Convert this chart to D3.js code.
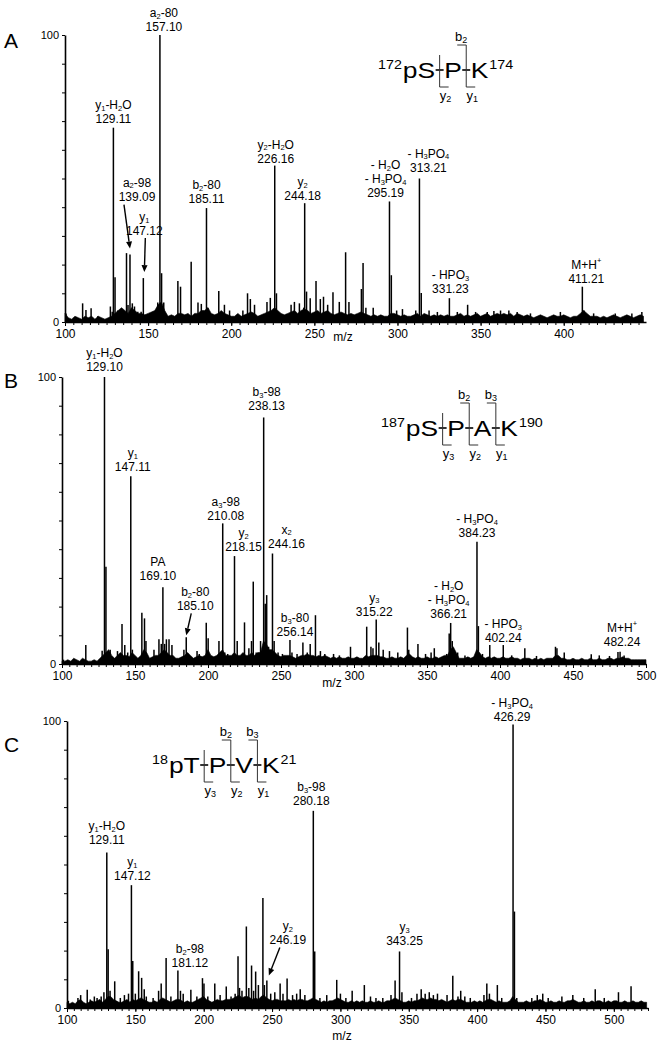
<!DOCTYPE html>
<html>
<head>
<meta charset="utf-8">
<script src="https://cdn.jsdelivr.net/npm/d3@7"></script>
<style>
  body { margin: 0; background: #fff; }
  svg { font-family: "Liberation Sans", Arial, sans-serif; }
</style>
</head>
<body>
<svg id="chart" width="662" height="1050"></svg>
<script>
// ---------- data: [m/z, relative intensity %] ----------
const peaksA = [
  [100.6,3],[110.6,6.5],[112.6,4.2],[115.7,4.8],[119.7,2],[127.3,5.4],[128.4,3.6],[129.11,67.7],[130.1,15.6],[131.7,4],
  [137.0,24],[137.9,5.9],[139.09,23.5],[140.5,6.5],[141.8,5.4],[143.8,3.6],[145.8,3.6],[147.12,15.3],[155.8,6.8],[157.10,100],
  [158.1,17],[159.4,6.8],[167.9,14.3],[169.5,12.3],[175.9,21],[180,6.8],[182,6.3],[185.11,39.7],[185.9,5],[192.5,10.8],
  [195.9,6],[199,4],[207,4],[209.8,10],[211.5,8],[214,6],[221.5,7],[223.5,8.4],[226.16,54.5],[227.2,10],
  [236,6],[238,7],[241,6.5],[243.6,5],[244.18,41.4],[245.3,10.6],[247.5,8.3],[251,14.3],[253.6,8],[255.5,8.8],
  [258,6],[261.2,10.4],[265,7],[268.8,24.3],[270.8,7],[278.3,11.5],[279.3,20.6],[281,5],[285.4,5],[295.19,42],
  [296.3,16.3],[299.5,4],[303,4.5],[311,4],[313.21,50],[314.3,10.1],[319,4],[324,3.5],[331.23,8.3],[336,3.5],
  [342.2,6],[347,3.5],[354,3.5],[358,3.8],[362,4],[367,4],[372,3.5],[380,3],[398,3.5],[411.21,12.3],
  [412.2,4],[418,3],[431,3],[441,3],[447,3.5]
];
const peaksB = [
  [101,1.5],[116.3,6.6],[127.5,4.6],[129.10,100],[130.1,33.9],[133,5],[138,4.5],[141.1,13.9],[143,6.6],[145,4],
  [147.11,65.4],[148.2,5],[154.7,17.9],[156.5,15.9],[157.5,8],[163,5],[166.4,8.6],[168,7],[169.10,26.7],[170.3,7],
  [171.5,8.6],[173.3,8.6],[175.3,6.6],[183.5,5],[185.10,9.3],[192.5,4.5],[194,3.5],[198.8,14.4],[200.1,9],[207.5,8],
  [210.08,49],[211.5,4],[213.5,3.5],[218.15,37.6],[220,8],[225,14.5],[228,5.5],[229.8,8],[231,28.7],[233,4],
  [236,8],[238.13,85.9],[239.2,21],[240.2,24],[241.5,6],[244.16,38.5],[245.3,8],[248,4],[251,3.5],[256.14,8.4],
  [257.5,4],[261,3.5],[265,7.5],[268,4],[270,7],[273.6,17],[277,4.5],[280,3.5],[286,3.5],[290,3],
  [297.6,6],[308.7,13],[311.6,6],[313,5.5],[315.22,15.5],[317,7.5],[320,5],[324.3,4.5],[330,4],[336.6,12.7],
  [337.5,5],[343.8,7],[349,3.5],[352.8,4],[355,5.5],[363.5,3.5],[365.2,10.6],[366.21,14.3],[367.3,8],[371,4],
  [376,3],[384.23,42.6],[385.2,13.2],[388,3.5],[393,6.6],[402.24,6.6],[408,3],[417,5.5],[425,2.8],[438,6],
  [439,5.5],[444,4],[462.5,3.4],[468,3],[475,2.8],[480.8,4.2],[482.24,4.3],[485,3]
];
const peaksC = [
  [101,2.5],[108,3.5],[110,4.5],[114.8,6.4],[117,3],[120,4],[122,3.5],[125,4],[127,5.5],[129.11,54.2],
  [130.1,20.5],[131.5,6],[134.9,9.3],[139,3.5],[142,4.5],[145,5],[147.12,42.8],[148.1,16.4],[150,5],[152.4,12.8],
  [154.6,10.5],[156.5,6.5],[158,4],[163,3.5],[167,6],[168.9,8.5],[172.5,17.4],[176,4],[181.12,13.1],[183,6],
  [185,5],[190.6,6.4],[195,4],[199.1,10.4],[200.2,8.5],[203,4],[208.1,8.5],[212,4.5],[216.5,7.5],[220,4],
  [223,5],[225.1,18],[226.2,7],[228,6],[231.2,28.4],[233,7],[235,14.8],[236.5,6],[238,12.7],[240,8],
  [243.3,38.3],[244.4,8],[246.19,9.6],[249,5],[252,5.5],[255.9,8.5],[258,5],[261,10.3],[265,4.5],[268,5],
  [270.6,6.5],[274,4.5],[280.18,68.7],[281.2,19.7],[285,3.5],[290,4.5],[297.3,9.8],[300,5],[304,3.5],[308.6,6],
  [317.5,8],[322,4],[326,3.5],[331,3.5],[337,4.5],[340,9.6],[343.25,19.7],[345,5.5],[352,3.5],[356,5],
  [359.1,6.5],[362,5],[365,5.5],[368,4.5],[371,5],[378,4.5],[382.2,11.2],[386,4],[388,6],[391,4],
  [395,3.5],[405,4.5],[407.1,8.5],[409,5],[414.8,8],[418,3.5],[426.29,98.8],[427.3,33.6],[429,3.5],[440,3.5],
  [444,4.5],[448,5],[452,3.5],[462,4],[470,4.5],[478,3.5],[486.4,6.5],[493,3.5],[503.4,5.5],[512.6,7.6]
];

// baseline noise, one value every 2 m/z starting at 100
const noiseA = [
  3,1.5,1,2,1.5,1,2,1.5,2,1,  2,1.5,1,1.5,2,3,4,5,4,3,  5,4,3,3,2.5,3,3.5,4,6,7,
  4,2,2.5,2,3,3,2.5,3,2,3,  3,4,4,5,3,2.5,3,4,3,2.5,  2,2,3,2,2.5,3,3.5,3,2,2.5,
  3,3.5,4,5,4,3,2.5,3,3.5,4,  3,4,4.5,4,3,3.5,4,3,3.5,4,  3,2.5,3,3.5,3,2.5,3,2.5,3,3.5,
  3,2.5,2,2.5,2,2.5,2,2,3,3,  2.5,2,2.5,2,2,2.5,3,2,3,2.5,  2,2.5,2,2.5,2,2.5,2,2,2.5,3,
  2,2.5,2,2.5,3,2,2.5,3,2,2.5,  3,2.5,3,2.5,3,2,3,2.5,2,2.5,  2,1.5,2,2.5,2,1.5,2,2.5,2,2,
  2.5,2,1.5,2,2,3,4,3,2,2,  2,1.5,2,1.5,2,2.5,2,1.5,2,2.5,  2,1.5,2,2.5,2
];
const noiseB = [
  1,1,1.5,1,2,1.5,1,2,1.5,1,  1,1.5,1,2,3,4,5,3,2,3,  4,3,3,2.5,4,3,2,3,5,4,
  2,2.5,3,3,4,5,4,3,3,2,  2,2.5,3,4,3,2,2.5,3,2.5,3,  5,3,2.5,3,4,5,3,3,3,4,
  3,3,4,3,3,4,3,4,4,8,  7,5,5,4,3,2.5,3,3,3,2.5,  2,2.5,3,3,3.5,3,3,2.5,3,2.5,
  3,2.5,2,2.5,2,2.5,2,2,2.5,2,  2,2.5,2,2,3,2.5,3,3,3,2.5,  2.5,2,2,2.5,2,2,2.5,2,3,3.5,
  2.5,2,2.5,2,2,2.5,2,2,2.5,2,  2.5,3,3,5,6,4,2,2,2,2.5,  2,2.5,5,4,2.5,2,2.5,2,2.5,2,
  2,2.5,2,2,2.5,2,2,1.5,2,2,  2,1.5,2,1.5,2,1.5,2,2,2,3,  3,2,2,1.5,1.5,2,1.5,1.5,2,1.5,
  1.5,2,1.5,1.5,2,1.5,1.5,2,2,1.5,  2,2,2.5,2,2,1.5,1.5,1.5,1.5,1.5,  1.5
];
const noiseC = [
  2,1.5,2,1.5,2.5,3,2,1.5,2,2.5,  2,2.5,3,2,3,4,4,3,2.5,2,  2,2.5,3,2,3,2.5,3,3.5,3,2.5,
  2,2,2.5,2,3,3.5,3,2.5,2,2.5,  3,3,2.5,2,2.5,2,2,2.5,3,3.5,  4,3,2.5,2,2.5,3,2.5,2.5,3,3,
  3,3.5,4,4.5,3.5,4,4,3.5,3,3.5,  3,4,4.5,3.5,3,2.5,3,3,2.5,2.5,  2.5,3,2.5,3,2.5,3,3,2.5,2.5,3,
  3.5,3,2.5,2,2.5,2,2.5,2.5,3,3.5,  3,2.5,2,2,2.5,2,2.5,2,2.5,2,  2,2.5,2,2,2.5,2,2,2.5,2.5,3,
  3.5,3,2.5,2,2,2.5,2,2.5,2.5,3,  3.5,3,3,3.5,3,3,2.5,3,2.5,2,  2.5,3,2.5,3,3,2.5,2,2,2,2.5,
  2,2.5,2,2.5,3,3,2.5,2,2.5,2,  2,2,2.5,4,3,2,2,2,2.5,2,  2,2.5,2.5,3,2.5,2,2,2.5,2,2,
  2.5,2,2,2.5,2.5,3,2.5,2,2,2.5,  2,2,2.5,2,2.5,2.5,2,2,2.5,2,  2.5,2.5,2,2,2.5,2,2,2.5,2,2,
  2.5,2,2
];

// peak annotations: [m/z, lines separated by |]  (_x subscript, ^x superscript)
const labelsA = [
  [129.11,"y_1-H_2O|129.11"],[139.09,"a_2-98|139.09"],[147.12,"y_1|147.12"],[157.10,"a_2-80|157.10"],
  [185.11,"b_2-80|185.11"],[226.16,"y_2-H_2O|226.16"],[244.18,"y_2|244.18"],[295.19,"- H_2O|- H_3PO_4|295.19"],
  [313.21,"- H_3PO_4|313.21"],[331.23,"- HPO_3|331.23"],[411.21,"M+H^+|411.21"]
];
const labelsB = [
  [129.10,"y_1-H_2O|129.10"],[147.11,"y_1|147.11"],[169.10,"PA|169.10"],[185.10,"b_2-80|185.10"],
  [210.08,"a_3-98|210.08"],[218.15,"y_2|218.15"],[238.13,"b_3-98|238.13"],[244.16,"x_2|244.16"],
  [256.14,"b_3-80|256.14"],[315.22,"y_3|315.22"],[366.21,"- H_2O|- H_3PO_4|366.21"],[384.23,"- H_3PO_4|384.23"],
  [402.24,"- HPO_3|402.24"],[482.24,"M+H^+|482.24"]
];
const labelsC = [
  [129.11,"y_1-H_2O|129.11"],[147.12,"y_1|147.12"],[181.12,"b_2-98|181.12"],[246.19,"y_2|246.19"],
  [280.18,"b_3-98|280.18"],[343.25,"y_3|343.25"],[426.29,"- H_3PO_4|426.29"]
];

// peptide sequences
const seqA = { nterm: "172", res: ["pS", "P", "K"], cterm: "174" };
const seqB = { nterm: "187", res: ["pS", "P", "A", "K"], cterm: "190" };
const seqC = { nterm: "18", res: ["pT", "P", "V", "K"], cterm: "21" };

const xTicks = [100, 150, 200, 250, 300, 350, 400, 450, 500];

// ---------- layout (pixel nudges for labels: [dx, rise, arrow?]) ----------
const nudgeA = [[0,5],[7,54,[-6,4,0,-6]],[1,43,[2,3,1,-6]],[4,4],[0,5],[1,3],[-2,3],[-4,4],[9,7],[1,5],[4,4]];
const nudgeB = [[0,6],[2,5],[-5,7],[9,27,[5,3,0,-2]],[3,3],[9,5],[3,7],[14,6],[5,4],[-2,4],[-2,5],[0,5],[0,3],[2,6]];
const nudgeC = [[0,8],[1,5],[12,3],[21,36,[13,3,2,-5]],[-2,6],[5,6],[-1,3]];

const panels = [
  { letter: "A", peaks: peaksA, noise: noiseA, labels: labelsA, nudge: nudgeA, seq: seqA,
    domain: [100, 449.5], left: 65, right: 646, top: 35, base: 322,
    letterPos: [4, 48], seqPos: [378, 78], mzPos: [343, 341] },
  { letter: "B", peaks: peaksB, noise: noiseB, labels: labelsB, nudge: nudgeB, seq: seqB,
    domain: [100, 500], left: 62, right: 646, top: 377, base: 664,
    letterPos: [4, 388], seqPos: [381, 436], mzPos: [332, 687] },
  { letter: "C", peaks: peaksC, noise: noiseC, labels: labelsC, nudge: nudgeC, seq: seqC,
    domain: [100, 525], left: 67, right: 648, top: 721, base: 1008,
    letterPos: [4, 752], seqPos: [152, 773], mzPos: [342, 1040] }
];

const svg = d3.select("#chart");

// write text with _sub and ^sup markup into a text/tspan
function addRich(sel, str, subSize) {
  const re = /([_^])(.)|([^_^]+)/g;
  let m, shift = 0;
  while ((m = re.exec(str)) !== null) {
    let target = 0, txt, fs = null;
    if (m[1]) {
      txt = m[2]; fs = subSize;
      target = m[1] === "_" ? subSize * 0.24 : -subSize * 0.7;
    } else {
      txt = m[3];
    }
    const t = sel.append("tspan").text(txt).attr("dy", target - shift);
    if (fs) t.attr("font-size", fs);
    shift = target;
  }
}

function drawArrow(g, x1, y1, x2, y2) {
  const ang = Math.atan2(y2 - y1, x2 - x1), L = 7, W = 3;
  const bx = x2 - L * Math.cos(ang), by = y2 - L * Math.sin(ang);
  g.append("line").attr("x1", x1).attr("y1", y1).attr("x2", bx).attr("y2", by)
    .attr("stroke", "#000").attr("stroke-width", 1.4);
  const px = -Math.sin(ang) * W, py = Math.cos(ang) * W;
  g.append("path")
    .attr("d", `M${x2},${y2}L${bx + px},${by + py}L${bx - px},${by - py}Z`)
    .attr("fill", "#000");
}

// residue letters in the reference are drawn horizontally stretched
function stretchedText(g, x, y, fs, sx, str) {
  const t = g.append("text").attr("transform", `translate(${x},${y}) scale(${sx},1)`)
    .attr("font-size", fs).text(str);
  return t.node().getComputedTextLength() * sx;
}

function drawSeq(seq, pos) {
  const g = svg.append("g").attr("transform", `translate(${pos[0]},${pos[1]})`);
  const fs = 22, supFs = 13, labFs = 13, gap = 9, sx = 1.2;
  let cx = 0;
  cx += stretchedText(g, cx, -9, supFs, 1.1, seq.nterm) + 1;
  const n = seq.res.length;
  seq.res.forEach((r, i) => {
    cx += stretchedText(g, cx, 0, fs, sx, r);
    if (i < n - 1) {
      const bx = cx + gap / 2;
      g.append("line").attr("x1", bx - 4).attr("x2", bx + 4).attr("y1", -8).attr("y2", -8)
        .attr("stroke", "#000").attr("stroke-width", 1.6);
      const topY = i === 0 ? -23 : -33;
      let d = `M${bx},${topY}L${bx},9L${bx + 9},9`;
      if (i > 0) d = `M${bx - 9},${topY}L${bx},${topY}` + d.replace("M", "L");
      g.append("path").attr("d", d).attr("fill", "none").attr("stroke", "#333").attr("stroke-width", 1);
      if (i > 0) {
        const bt = g.append("text").attr("x", bx - 5).attr("y", -37).attr("font-size", labFs)
          .attr("text-anchor", "middle");
        addRich(bt, "b_" + (i + 1), 9);
      }
      const yt = g.append("text").attr("x", bx + 6).attr("y", 22).attr("font-size", labFs)
        .attr("text-anchor", "middle");
      addRich(yt, "y_" + (n - 1 - i), 9);
      cx += gap;
    }
  });
  stretchedText(g, cx + 1, -9, supFs, 1.1, seq.cterm);
}

function drawPanel(p) {
  const x = d3.scaleLinear().domain(p.domain).range([p.left, p.right]);
  const y = d3.scaleLinear().domain([0, 100]).range([p.base, p.top]);
  const g = svg.append("g");

  // noise floor
  const noisePts = p.noise.map((v, i) => [p.domain[0] + i * 2, v]);
  g.append("path").datum(noisePts)
    .attr("d", d3.area().x(d => x(d[0])).y0(y(0)).y1(d => y(d[1])))
    .attr("fill", "#000").attr("stroke", "#000").attr("stroke-width", 0.6);

  // peaks
  g.append("g").selectAll("line").data(p.peaks).join("line")
    .attr("x1", d => x(d[0])).attr("x2", d => x(d[0]))
    .attr("y1", y(0)).attr("y2", d => y(d[1]))
    .attr("stroke", "#000").attr("stroke-width", 1.5);

  // axes
  const minor = d3.range(p.domain[0], p.domain[1] + 0.1, 5);
  g.append("g").attr("transform", `translate(0,${p.base})`)
    .call(d3.axisBottom(x).tickValues(minor).tickSize(3).tickFormat(""))
    .call(a => a.select(".domain").remove())
    .selectAll("line").attr("stroke-width", 1);
  const xa = g.append("g").attr("transform", `translate(0,${p.base})`)
    .call(d3.axisBottom(x).tickValues(xTicks.filter(t => t <= p.domain[1])).tickSize(4).tickSizeOuter(0).tickPadding(3));
  xa.select(".domain").attr("stroke-width", 1.6);
  xa.selectAll("text").attr("font-size", 12).attr("font-family", "Liberation Sans, Arial, sans-serif");

  const ya = g.append("g").attr("transform", `translate(${p.left},0)`)
    .call(d3.axisLeft(y).tickValues(d3.range(0, 101, 10)).tickSize(3).tickSizeOuter(0).tickPadding(3)
      .tickFormat(d => (d === 0 || d === 100) ? d : ""));
  ya.select(".domain").attr("stroke-width", 1.6);
  ya.selectAll("text").attr("font-size", 11).attr("font-family", "Liberation Sans, Arial, sans-serif");

  svg.append("text").attr("x", p.mzPos[0]).attr("y", p.mzPos[1]).attr("font-size", 12)
    .attr("text-anchor", "middle").text("m/z");

  svg.append("text").attr("x", p.letterPos[0]).attr("y", p.letterPos[1]).attr("font-size", 21).text(p.letter);

  // annotations: one text per label, one tspan per line
  const lh = 14;
  p.labels.forEach((lab, k) => {
    const [mz, txt] = lab;
    const nd = p.nudge[k];
    const pk = p.peaks.find(q => q[0] === mz);
    const px = x(mz), top = y(pk[1]);
    const lines = txt.split("|");
    const lastBase = top - nd[1];
    const t = g.append("text").attr("font-size", 12).attr("text-anchor", "middle");
    lines.forEach((ln, i) => {
      const row = t.append("tspan").attr("x", px + nd[0])
        .attr("y", lastBase - (lines.length - 1 - i) * lh);
      addRich(row, ln, 7.5);
    });
    if (nd[2]) {
      const a = nd[2];
      drawArrow(g, px + a[0], lastBase + a[1], px + a[2], top + a[3]);
    }
  });

  drawSeq(p.seq, p.seqPos);
}

panels.forEach(drawPanel);
</script>
</body>
</html>
